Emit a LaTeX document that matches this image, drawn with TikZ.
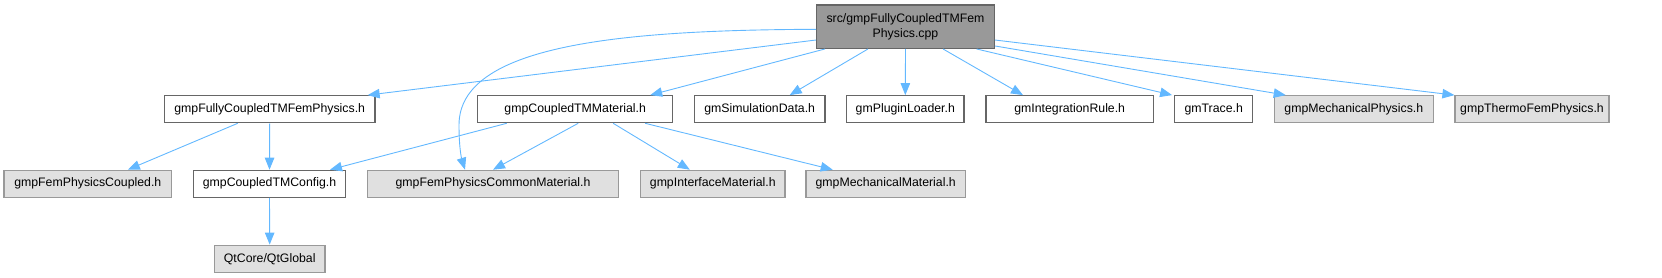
\documentclass[tikz,border=0pt]{standalone}
\usepackage{fontspec}
\setmainfont{Liberation Sans}
\usepackage{tikz}
\usetikzlibrary{arrows.meta,positioning,calc}

\definecolor{edgeblue}{HTML}{63B8FF}
\definecolor{extfill}{HTML}{E0E0E0}
\definecolor{extline}{HTML}{999999}
\definecolor{fileline}{HTML}{666666}

\tikzset{
  file/.style={draw=fileline,fill=white,line width=1.2pt,inner sep=0pt,
    minimum height=27pt,font=\fontsize{12.3}{14.5}\selectfont},
  extfile/.style={file,draw=extline,fill=extfill},
  rootfile/.style={file,draw=fileline,fill=extline,align=center,minimum height=43.3pt},
  dep/.style={edgeblue,line width=0.9pt,-{Triangle[length=12pt,width=9.5pt]}}
}

\begin{document}
\begin{tikzpicture}[x=1pt,y=-1pt]
  \useasboundingbox (0,0) rectangle (1662,277);
  % Top file
  \node[rootfile,minimum width=177.6pt] (root) at (905.5,26.7)
    {src/gmpFullyCoupledTMFem\\Physics.cpp};
  % First row of includes
  \node[file,minimum width=210.7pt] (fcp) at (269.7,109.2) {gmpFullyCoupledTMFemPhysics.h};
  \node[file,minimum width=195pt] (ctmm) at (575.2,109.2) {gmpCoupledTMMaterial.h};
  \node[file,minimum width=130.7pt] (simd) at (759.7,109.2) {gmSimulationData.h};
  \node[file,minimum width=117.3pt] (plug) at (905.3,109.2) {gmPluginLoader.h};
  \node[file,minimum width=167.3pt] (intr) at (1069.7,109.2) {gmIntegrationRule.h};
  \node[file,minimum width=78pt] (trace) at (1213.7,109.2) {gmTrace.h};
  \node[extfile,minimum width=159pt] (mechp) at (1353.8,109.2) {gmpMechanicalPhysics.h};
  \node[extfile,minimum width=154pt] (thermo) at (1532,109.2) {gmpThermoFemPhysics.h};
  % Second row
  \node[extfile,minimum width=167.7pt] (fpc) at (87.8,183.8) {gmpFemPhysicsCoupled.h};
  \node[file,minimum width=152.4pt] (ctmc) at (269.5,183.8) {gmpCoupledTMConfig.h};
  \node[extfile,minimum width=250.6pt] (fpcm) at (493,183.8) {gmpFemPhysicsCommonMaterial.h};
  \node[extfile,minimum width=144.3pt] (ifm) at (712.8,183.8) {gmpInterfaceMaterial.h};
  \node[extfile,minimum width=159.3pt] (mm) at (885.7,183.8) {gmpMechanicalMaterial.h};
  % Third row
  \node[extfile,minimum width=110.7pt] (qt) at (269.7,258.7) {QtCore/QtGlobal};

  % Edges from the top file
  \draw[dep] ([yshift=-13.3pt]root.west) -- ([xshift=-8pt]fcp.north east);
  \draw[dep] ([yshift=-2.6pt]root.west) .. controls (620,30) and (459,45) .. (459,125)
    .. controls (459,150) and (462,160) .. ([xshift=-28pt]fpcm.north);
  \draw[dep] ([xshift=-80.5pt]root.south) -- ([xshift=75pt]ctmm.north);
  \draw[dep] ([xshift=-37.5pt]root.south) -- ([xshift=30pt]simd.north);
  \draw[dep] (root.south) -- (plug.north);
  \draw[dep] ([xshift=37.5pt]root.south) -- ([xshift=-46.7pt]intr.north);
  \draw[dep] ([xshift=71pt]root.south) -- ([xshift=-2pt]trace.north west);
  \draw[dep] ([yshift=3pt]root.south east) -- ([xshift=12pt]mechp.north west);
  \draw[dep] ([yshift=-13.3pt]root.east) -- (thermo.north west);
  % Second level
  \draw[dep] ([xshift=-32pt]fcp.south) -- ([xshift=40pt]fpc.north);
  \draw[dep] (fcp.south) -- (ctmc.north);
  \draw[dep] ([xshift=-68.5pt]ctmm.south) -- ([xshift=60.5pt]ctmc.north);
  \draw[dep] ([xshift=3pt]ctmm.south) -- (fpcm.north);
  \draw[dep] ([xshift=38pt]ctmm.south) -- ([xshift=-23pt]ifm.north);
  \draw[dep] ([xshift=70pt]ctmm.south) -- ([xshift=-53pt]mm.north);
  \draw[dep] (ctmc.south) -- (qt.north);
\end{tikzpicture}
\end{document}
